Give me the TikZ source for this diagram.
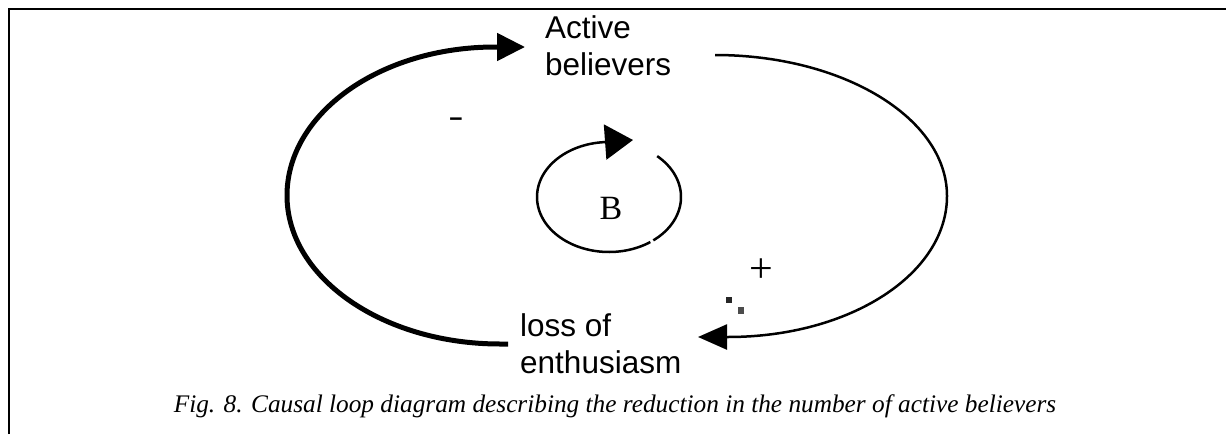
\documentclass[tikz,border=0pt]{standalone}
\usepackage{fontspec}
\setmainfont{Liberation Serif}
\newfontfamily\arialf{Liberation Sans}
\usetikzlibrary{arrows.meta}
\begin{document}
\begin{tikzpicture}[x=1pt,y=-1pt,
  lbl/.style={font=\arialf\fontsize{31.5}{37}\selectfont, inner sep=0pt, align=left},
  serifsym/.style={inner sep=0pt, anchor=base},
  thickarc/.style={line width=5pt},
  thinarc/.style={line width=2.5pt},
  frameline/.style={line width=2pt}]
\fill[white] (0,0) rectangle (1226,434);
\useasboundingbox (0,0) rectangle (1226,434);
\draw[frameline] (9,434) -- (9,9) -- (1226,9);

% nodes (base anchor = baseline of last line)
\node[lbl, anchor=base west] (ab) at (545,75) {Active\\believers};
\node[lbl, anchor=base west] (loe) at (520,373) {loss of\\enthusiasm};
\node[serifsym, font=\fontsize{34}{40}\selectfont] (B) at (611,219) {B};
\node[serifsym, font=\arialf\fontsize{31.5}{37}\selectfont, xscale=1.5] (minus) at (456,127) {-};
\node[serifsym, font=\fontsize{42}{46}\selectfont] (plus) at (761,282) {+};
\node[serifsym, font=\itshape\fontsize{25.3}{30}\selectfont] (cap) at (615,412)
  {Fig. 8. Causal loop diagram describing the reduction in the number of active believers};

% outer left connector: loss of enthusiasm -> Active believers
\coordinate (Ls) at (508,344);
\coordinate (Lt) at (525,47);
\draw[thickarc, -{Triangle[length=28pt,width=27pt]}] (Ls) -- (500,344)
  .. controls (382.4,344) and (287,277.5) .. (287,195.5)
  .. controls (287,113.5) and (380,47) .. (495,47) -- (Lt);

% outer right connector: Active believers -> loss of enthusiasm
\coordinate (Rs) at (715,55);
\coordinate (Rt) at (698,337);
\draw[thinarc, -{Triangle[length=29pt,width=25pt]}] (Rs)
  .. controls (843,55) and (947,118) .. (947,196)
  .. controls (947,274) and (850,337) .. (728,337) -- (Rt);

% inner balancing loop symbol
\draw[thinarc] plot[domain=-48:52, samples=50, smooth, variable=\t] ({609+72*cos(\t)},{197+55*sin(\t)});
\draw[thinarc] plot[domain=55:266, samples=80, smooth, variable=\t] ({609+72*cos(\t)},{197+55*sin(\t)});
\coordinate (Bs) at ({609+72*cos(266)},{197+55*sin(266)});
\coordinate (Bt) at (633,140);
\draw[thinarc, -{Triangle[length=28pt,width=35pt]}] (Bs) -- (Bt);

% small marks
\fill[black!85] (726,297) rectangle (732,303);
\fill[black!70] (738,307) rectangle (744,314);
\end{tikzpicture}
\end{document}
